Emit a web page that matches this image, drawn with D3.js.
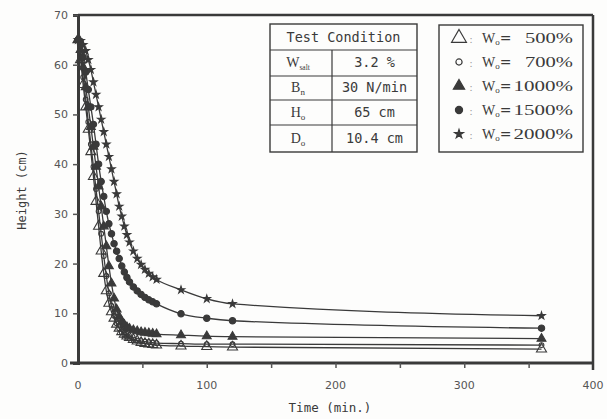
<!DOCTYPE html>
<html>
<head>
<meta charset="utf-8">
<script src="https://cdn.jsdelivr.net/npm/d3@7"></script>
<style>
  body { margin: 0; background: #fdfdfc; }
  svg { display: block; }
</style>
</head>
<body>
<div id="chart"></div>
<script>
// sampling times (min.)
var times = [0,2,4,6,8,10,12,14,16,18,20,22,24,26,28,30,32,34,36,38,40,43,46,49,52,55,58,61,80,100,120,360]

// heights (cm), one list per series
var h500  = [65,61,56,51.5,47,42.5,37.5,32.5,27.5,22.5,18,14.5,12,10.3,9,7.8,7,6.3,5.8,5.4,5.1,4.7,4.4,4.1,3.9,3.8,3.7,3.6,3.4,3.3,3.2,2.8]
var h700  = [65,62,57.5,53,48.5,44,39.5,35,30.5,26,21.5,17.5,14,11.5,9.5,8,7,6.2,5.7,5.3,5,4.7,4.5,4.4,4.3,4.2,4.1,4.0,3.9,3.8,3.8,3.6]
var h1000 = [65,63,59.5,55.5,51.5,47.5,43.5,39.5,35.5,31.5,27.5,23.5,19.5,16,13,10.8,9.3,8.3,7.7,7.2,6.9,6.6,6.4,6.2,6.1,6.0,5.9,5.8,5.6,5.4,5.3,4.9]
var h1500 = [65,64,61.5,58.5,55,51.5,48,44,40,36.5,33.5,30.5,28,26,24,22.5,21,19.5,18.3,17.2,16.3,15.3,14.5,13.8,13.2,12.7,12.3,11.9,9.9,9.0,8.5,7.0]
var h2000 = [65,64.8,64,62.8,61,59,56.5,54,51.5,49,46.5,44,41.5,39,36.5,34,31.5,29.5,27.5,25.8,24.3,22.5,21,19.8,18.8,18,17.3,16.8,14.7,12.9,11.9,9.5]

var seriesNames = ['500%', '700%', '1000%', '1500%', '2000%']
var xTicks = [0,100,200,300,400]
var xMinorTicks = [50,100,150,200,250,300,350]
var yTicks = [0,10,20,30,40,50,60,70]

var condLabels = [['W','salt'], ['B','n'], ['H','o'], ['D','o']]
var condValues = ['3.2 %', '30 N/min', '65 cm', '10.4 cm']

var W = 607, H = 419
var INK = '#3a3a3a'
var MONO = '"DejaVu Sans Mono", "Liberation Mono", monospace'

var svg = d3.select('#chart').append('svg')
	.attr('width', W).attr('height', H)

var x = d3.scaleLinear().domain([0,400]).range([78,593])
var y = d3.scaleLinear().domain([0,70]).range([363,15])

// marker styles per series (index matches seriesNames)
var markers = [
	{type: d3.symbolTriangle, size: 44, fill: 'none', legend: 95},
	{type: d3.symbolCircle,   size: 18, fill: 'none', legend: 30},
	{type: d3.symbolTriangle, size: 34, fill: INK,    legend: 55},
	{type: d3.symbolCircle,   size: 32, fill: INK,    legend: 40},
	{type: d3.symbolStar,     size: 17, fill: INK,    legend: 24}
]
var allHeights = [h500, h700, h1000, h1500, h2000]

// frame
svg.append('line').attr('x1', x(0)).attr('x2', x(400)).attr('y1', y(70)).attr('y2', y(70))
	.attr('stroke', INK).attr('stroke-width', 2.5)
svg.append('line').attr('x1', x(400)).attr('x2', x(400)).attr('y1', y(70)).attr('y2', y(0) + 7)
	.attr('stroke', INK).attr('stroke-width', 2.5)

// y axis
var yAxis = svg.append('g').attr('transform', 'translate(' + x(0) + ',0)')
	.call(d3.axisLeft(y).tickValues(yTicks).tickSize(5).tickPadding(5))
yAxis.select('.domain').attr('stroke', INK).attr('stroke-width', 3)
yAxis.selectAll('.tick line').attr('stroke', '#555').attr('stroke-width', 1.5)
yAxis.selectAll('.tick text').attr('fill', '#555').attr('font-size', 11)
	.attr('font-family', '"DejaVu Sans", sans-serif')

// x axis
var xAxis = svg.append('g').attr('transform', 'translate(0,' + y(0) + ')')
	.call(d3.axisBottom(x).tickValues(xMinorTicks).tickSize(5).tickFormat(''))
xAxis.select('.domain').attr('stroke', INK).attr('stroke-width', 3)
	.attr('d', 'M' + (x(0) - 8) + ',0H' + x(400))
xAxis.selectAll('.tick line').attr('stroke', '#555').attr('stroke-width', 1.5)

svg.append('g').selectAll('text').data(xTicks).enter().append('text')
	.attr('x', function(d){ return x(d) })
	.attr('y', y(0) + 26)
	.attr('text-anchor', 'middle')
	.attr('fill', '#555').attr('font-size', 11)
	.attr('font-family', '"DejaVu Sans", sans-serif')
	.text(function(d){ return d })

// axis titles
svg.append('text').attr('x', 330).attr('y', 412).attr('text-anchor', 'middle')
	.attr('font-family', MONO).attr('font-size', 12.5).attr('fill', INK)
	.text('Time (min.)')
svg.append('text').attr('transform', 'translate(26,190) rotate(-90)').attr('text-anchor', 'middle')
	.attr('font-family', MONO).attr('font-size', 12).attr('fill', INK)
	.text('Height (cm)')

// curves
var line = d3.line()
	.x(function(d){ return x(d[0]) })
	.y(function(d){ return y(d[1]) })
	.curve(d3.curveMonotoneX)

allHeights.forEach(function(hs, i) {
	var pts = times.map(function(t, k){ return [t, hs[k]] })
	svg.append('path').datum(pts).attr('d', line)
		.attr('fill', 'none').attr('stroke', INK).attr('stroke-width', 1.3)

	var m = markers[i]
	svg.append('g').selectAll('path').data(pts).enter().append('path')
		.attr('transform', function(d){ return 'translate(' + x(d[0]) + ',' + y(d[1]) + ')' })
		.attr('d', d3.symbol().type(m.type).size(m.size))
		.attr('fill', m.fill).attr('stroke', INK).attr('stroke-width', 1.1)
})

// test condition table
var tb = svg.append('g').attr('font-family', MONO).attr('fill', INK)
var tx0 = 270, tx1 = 332, tx2 = 417
var rowsY = [24, 50, 76, 100, 125, 152]
tb.append('rect').attr('x', tx0).attr('y', rowsY[0]).attr('width', tx2 - tx0).attr('height', rowsY[5] - rowsY[0])
	.attr('fill', 'none').attr('stroke', INK).attr('stroke-width', 1.4)
for (var r = 1; r < 5; r++)
	tb.append('line').attr('x1', tx0).attr('x2', tx2).attr('y1', rowsY[r]).attr('y2', rowsY[r])
		.attr('stroke', INK).attr('stroke-width', 1.2)
tb.append('line').attr('x1', tx1).attr('x2', tx1).attr('y1', rowsY[1]).attr('y2', rowsY[5])
	.attr('stroke', INK).attr('stroke-width', 1.2)
tb.append('text').attr('x', (tx0 + tx2) / 2).attr('y', 42).attr('text-anchor', 'middle')
	.attr('font-size', 13.5).attr('fill', INK).text('Test Condition')

condLabels.forEach(function(lab, i) {
	var cy = (rowsY[i+1] + rowsY[i+2]) / 2 + 4
	var t = tb.append('text').attr('x', (tx0 + tx1) / 2 - 3).attr('y', cy).attr('text-anchor', 'middle')
		.attr('font-size', 14).attr('fill', INK)
		.attr('font-family', '"Liberation Serif", serif')
	t.append('tspan').text(lab[0])
	t.append('tspan').attr('font-size', lab[1].length > 1 ? 7.5 : 9).attr('dy', 3).text(lab[1])
	tb.append('text').attr('x', (tx1 + tx2) / 2).attr('y', cy).attr('text-anchor', 'middle')
		.attr('font-size', 13.5).attr('fill', INK).text(condValues[i])
})

// legend
var lg = svg.append('g')
lg.append('rect').attr('x', 439).attr('y', 25).attr('width', 144).attr('height', 127)
	.attr('fill', 'none').attr('stroke', INK).attr('stroke-width', 1.4)
seriesNames.forEach(function(name, i) {
	var ly = 43 + i * 24
	var m = markers[i]
	lg.append('path').attr('transform', 'translate(459,' + (ly - 5) + ')')
		.attr('d', d3.symbol().type(m.type).size(m.legend))
		.attr('fill', m.fill).attr('stroke', INK).attr('stroke-width', 1.2)
	lg.append('text').attr('x', 471).attr('y', ly).attr('text-anchor', 'middle')
		.attr('font-size', 11).attr('fill', '#999').text(':')
	var t = lg.append('text').attr('x', 482).attr('y', ly)
		.attr('font-family', '"Liberation Serif", serif').attr('font-size', 14).attr('fill', INK)
	t.append('tspan').text('W')
	t.append('tspan').attr('font-size', 9).attr('dy', 2).text('o')
	t.append('tspan').attr('dy', -2).attr('font-family', '"DejaVu Sans", sans-serif').text('=')
	lg.append('text').attr('x', 573).attr('y', ly).attr('text-anchor', 'end')
		.attr('font-family', '"Liberation Serif", serif').attr('font-size', 14).attr('fill', INK)
		.attr('textLength', name.length * 11.5 + 2).attr('lengthAdjust', 'spacingAndGlyphs')
		.text(name)
})
</script>
</body>
</html>
